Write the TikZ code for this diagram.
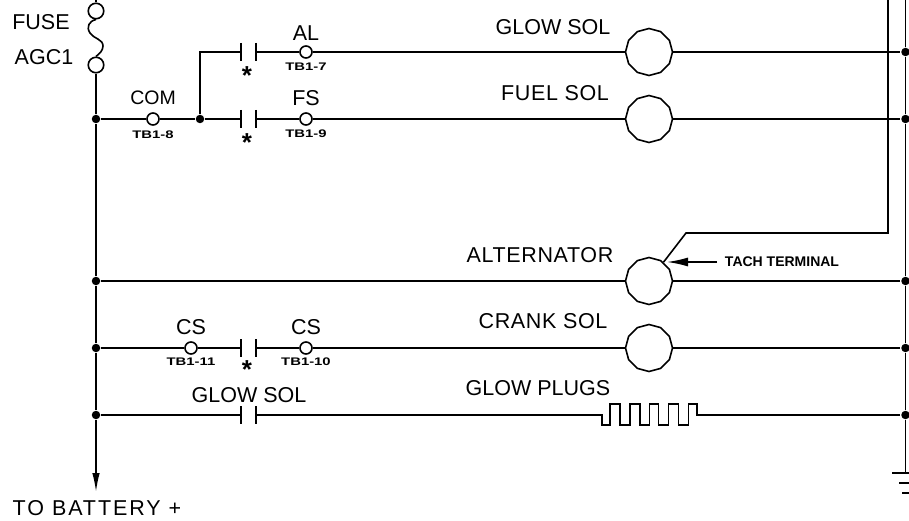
\documentclass[tikz,border=0pt]{standalone}
\usepackage{fontspec}
\setmainfont{Liberation Sans}
\newfontfamily\tbfont[FakeStretch=1.35]{Liberation Sans}
\usetikzlibrary{arrows.meta,shapes.geometric}

\tikzset{
  lbl/.style={inner sep=0pt, font=\fontsize{21.5}{24}\selectfont},
  lblw/.style={inner sep=0pt, font=\fontsize{21.5}{24}\selectfont\addfontfeature{LetterSpace=3}},
  lblwide/.style={inner sep=0pt, font=\fontsize{21.5}{24}\selectfont\addfontfeature{LetterSpace=9}},
  tblbl/.style={inner sep=0pt, font=\tbfont\bfseries\fontsize{11}{13}\selectfont},
  tachlbl/.style={inner sep=0pt, font=\bfseries\fontsize{14}{15}\selectfont},
  starlbl/.style={inner sep=0pt, font=\bfseries\fontsize{26}{28}\selectfont},
  dot/.style={circle, fill=black, inner sep=0pt, minimum size=8.5pt},
  term/.style={circle, draw, fill=white, inner sep=0pt, minimum size=12pt},
  lamp/.style={regular polygon, regular polygon sides=12, shape border rotate=15, draw, fill=white, inner sep=0pt, minimum size=47pt},
  fusering/.style={circle, draw, fill=white, inner sep=0pt, minimum size=15.5pt},
}

\def\contact#1#2{
\coordinate (#1l) at (241,#2);
\coordinate (#1r) at (256,#2);
\draw (241,#2-9)--(241,#2+9);
\draw (256,#2-9)--(256,#2+9);
}

\begin{document}
\begin{tikzpicture}[x=1pt, y=-1pt, line width=1.6pt, >=latex]

\useasboundingbox (0,0) rectangle (909,521);

\node[lbl] (fuselbl) at (41,22) {FUSE};
\node[lbl] (agclbl) at (44,57) {AGC1};
\node[fusering] (fusetop) at (96,11) {};
\node[fusering] (fusebot) at (96,65) {};
\coordinate (topl) at (96,0);
\coordinate (topr) at (905.5,0);
\coordinate (topt) at (888,0);
\coordinate (battery) at (96,492);
\coordinate (gnd) at (905.5,473);
\coordinate (bendk) at (888,233);
\coordinate (bendd) at (686,233);

\draw (topl)--(fusetop);
\draw (fusetop.south) .. controls (89,21) and (86,27) .. (90,33)
  .. controls (94,39) and (103,39) .. (103,46)
  .. controls (103,51) and (99,54) .. (fusebot.north);

\node[dot] (jl1) at (96,119) {};
\node[dot] (jl2) at (96,281) {};
\node[dot] (jl3) at (96,348) {};
\node[dot] (jl4) at (96,415) {};
\node[dot] (jc) at (200,119) {};
\node[dot] (jr0) at (905.5,52) {};
\node[dot] (jr1) at (905.5,119) {};
\node[dot] (jr2) at (905.5,281) {};
\node[dot] (jr3) at (905.5,348) {};
\node[dot] (jr4) at (905.5,415) {};
\coordinate (jcup) at (200,52);

\contact{kal}{52}
\contact{kfs}{119}
\contact{kcs}{348}
\contact{kgl}{415}

\node[term] (tcom) at (153,119) {};
\node[term] (tal) at (306,52) {};
\node[term] (tfs) at (306,119) {};
\node[term] (tcsa) at (191,348) {};
\node[term] (tcsb) at (306,348) {};

\node[lamp] (mglow) at (649,52) {};
\node[lamp] (mfuel) at (649,119) {};
\node[lamp] (malt) at (649,281) {};
\node[lamp] (mcrank) at (649,348) {};

\draw (fusebot)--(jl1)--(jl2)--(jl3)--(jl4);
\draw[-{Latex[length=19pt,width=7.5pt]}] (jl4)--(battery);
\draw (topr)--(jr0)--(jr1)--(jr2)--(jr3)--(jr4)--(gnd);
\draw (topt)--(bendk)--(bendd)--(malt);

\draw (jl1)--(tcom)--(jc)--(kfsl);
\draw (jc)--(jcup)--(kall);
\draw (kalr)--(tal)--(mglow)--(jr0);
\draw (kfsr)--(tfs)--(mfuel)--(jr1);
\draw (jl2)--(malt)--(jr2);
\draw (jl3)--(tcsa)--(kcsl);
\draw (kcsr)--(tcsb)--(mcrank)--(jr3);
\draw (jl4)--(kgll);

\coordinate (hstart) at (601.7,415);
\coordinate (hend) at (696.7,415);
\draw (kglr)--(hstart)--(601.7,425)--(610,425)--(610,404)--(620,404)--(620,425)--(630,425)
  --(630,404)--(640,404)--(640,425)--(649.3,425)--(649.3,404)--(658.3,404)--(658.3,425)
  --(668.3,425)--(668.3,404)--(678.3,404)--(678.3,425)--(688.3,425)--(688.3,404)
  --(696.7,404)--(hend)--(jr4);

\coordinate (g1a) at (892,473);
\coordinate (g1b) at (909,473);
\coordinate (g2a) at (899,483);
\coordinate (g2b) at (909,483);
\coordinate (g3a) at (902,493);
\coordinate (g3b) at (909,493);
\draw (g1a)--(g1b);
\draw (g2a)--(g2b);
\draw (g3a)--(g3b);

\node[lbl] (alx) at (306,33) {AL};
\node[tblbl] (tb7) at (306,67) {TB1-7};
\node[lbl] (fsx) at (306,98) {FS};
\node[tblbl] (tb9) at (306,134) {TB1-9};
\node[lbl,font=\fontsize{19.5}{24}\selectfont] (comx) at (153,98) {COM};
\node[tblbl] (tb8) at (153,135) {TB1-8};
\node[lbl] (csa) at (191,327) {CS};
\node[tblbl] (tb11) at (191,362) {TB1-11};
\node[lbl] (csb) at (306,327) {CS};
\node[tblbl] (tb10) at (306,362) {TB1-10};
\node[starlbl] (star1) at (247,75.5) {*};
\node[starlbl] (star2) at (247,142.5) {*};
\node[starlbl] (star3) at (247,369.5) {*};
\node[lbl] (glowc) at (249,395) {GLOW SOL};
\node[lbl] (glowm) at (553,27) {GLOW SOL};
\node[lblw] (fuelm) at (555,93) {FUEL SOL};
\node[lblw] (altm) at (540,255) {ALTERNATOR};
\node[lblw] (crankm) at (543,321) {CRANK SOL};
\node[lbl] (plugs) at (538,388) {GLOW PLUGS};
\node[lblwide] (batt) at (97,508) {TO BATTERY +};

\node[tachlbl] (tach) at (782,262) {TACH TERMINAL};
\coordinate (tachtail) at (717,262);
\coordinate (tachtip) at (667,262);
\draw[-{Latex[length=21pt,width=9pt]}] (tachtail)--(tachtip);

\end{tikzpicture}
\end{document}
